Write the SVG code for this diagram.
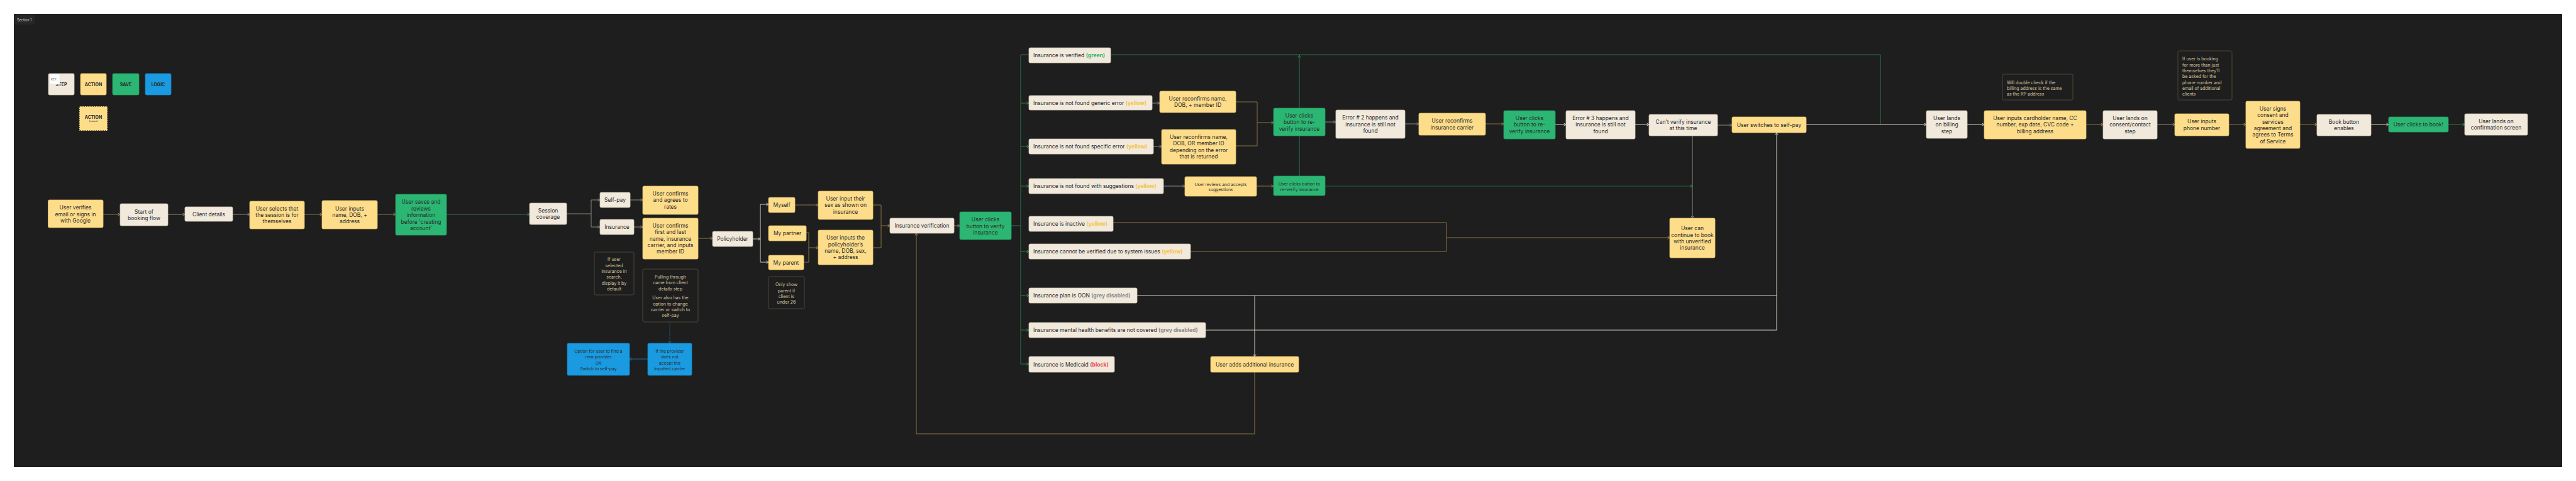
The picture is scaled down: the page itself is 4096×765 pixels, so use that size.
<svg xmlns="http://www.w3.org/2000/svg" width="4096" height="765" viewBox="0 0 4096 765">
<style>
text{font-family:Inter,"Liberation Sans",sans-serif;dominant-baseline:central}
.t{font-size:8.5px;fill:#2a2a2a;text-anchor:middle}
.l{font-size:8.5px;fill:#2a2a2a;text-anchor:start}
.s{font-size:6.8px;fill:#2a2a2a;text-anchor:middle}
.n{font-size:7px;fill:#d8c79f;text-anchor:middle}
.nl{font-size:7px;fill:#d8c79f;text-anchor:start}
.k{font-size:7px;font-weight:700;fill:#2a2a2a;text-anchor:middle}
.step{fill:#f1e9dc;stroke:#cfc4b2;stroke-width:0.8}
.act{fill:#fedd8a;stroke:#e2c06a;stroke-width:0.8}
.save{fill:#2cb673;stroke:#239a5f;stroke-width:0.8}
.logic{fill:#1a9ae0;stroke:#1583c0;stroke-width:0.8}
.note{fill:#1e1e1e;stroke:#4c4636;stroke-width:1}
.c{fill:none;stroke-width:1}
.g{stroke:#8f8a82}
.b{stroke:#8a7446}
.gr{stroke:#2b7a4e}
.lt{stroke:#d6cfc2}
.bl{stroke:#1b6fa3}
.yel{fill:#f6c343;font-weight:700}
.grn{fill:#2cb673;font-weight:700}
.gry{fill:#8c8c8c;font-weight:700}
.red{fill:#e5484d;font-weight:700}
</style>
<defs>
<marker id="ag" markerUnits="userSpaceOnUse" markerWidth="6" markerHeight="6" refX="4.2" refY="3" orient="auto"><path d="M0.6,0.8 L4.2,3 L0.6,5.2" fill="none" stroke="#8f8a82" stroke-width="0.9"/></marker>
<marker id="ab" markerUnits="userSpaceOnUse" markerWidth="6" markerHeight="6" refX="4.2" refY="3" orient="auto"><path d="M0.6,0.8 L4.2,3 L0.6,5.2" fill="none" stroke="#a88c50" stroke-width="0.9"/></marker>
<marker id="agr" markerUnits="userSpaceOnUse" markerWidth="6" markerHeight="6" refX="4.2" refY="3" orient="auto"><path d="M0.6,0.8 L4.2,3 L0.6,5.2" fill="none" stroke="#2b9a5e" stroke-width="0.9"/></marker>
<marker id="alt" markerUnits="userSpaceOnUse" markerWidth="6" markerHeight="6" refX="4.2" refY="3" orient="auto"><path d="M0.6,0.8 L4.2,3 L0.6,5.2" fill="none" stroke="#d6cfc2" stroke-width="0.9"/></marker>
<marker id="abl" markerUnits="userSpaceOnUse" markerWidth="6" markerHeight="6" refX="4.2" refY="3" orient="auto"><path d="M0.6,0.8 L4.2,3 L0.6,5.2" fill="none" stroke="#1b6fa3" stroke-width="0.9"/></marker>
</defs>
<rect x="0" y="0" width="4096" height="765" fill="#ffffff"/>
<rect x="22" y="22" width="4052" height="721" fill="#1e1e1e"/>
<g id="section-label">
<rect x="23" y="23" width="32" height="16" fill="#262626"/>
<text x="27" y="31.5" style="font-size:5.5px;fill:#cfcfcf">Section 1</text>
</g>
<g id="legend">
<rect class="step" x="77" y="117" width="41" height="34" rx="2"/>
<text class="k" x="97.5" y="134">STEP</text>
<rect x="79" y="118" width="16" height="16" fill="#ffffff" stroke="#dddddd" stroke-width="0.5"/>
<text x="81" y="126" style="font-size:4.5px;fill:#555555">KEY</text>
<rect class="act" x="128" y="117" width="41" height="34" rx="2"/>
<text class="k" x="148.5" y="134">ACTION</text>
<rect class="save" x="179" y="117" width="42" height="34" rx="2"/>
<text class="k" x="200" y="134">SAVE</text>
<rect class="logic" x="231" y="117" width="41" height="34" rx="2"/>
<text class="k" x="251.5" y="134">LOGIC</text>
<rect x="126" y="169" width="45" height="39" fill="#fedd8a" stroke="#3a3220" stroke-width="1.6" stroke-dasharray="1.8,1.8"/>
<text class="k" x="148.5" y="186">ACTION</text>
<text x="148.5" y="193" style="font-size:3.6px;fill:#2a2a2a;text-anchor:middle">(unique)</text>
</g>
<g id="connectors">
<path class="c b" d="M164,341 H191" marker-end="url(#ab)"/>
<path class="c g" d="M267,341 H294" marker-end="url(#ag)"/>
<path class="c g" d="M370,341 H397" marker-end="url(#ag)"/>
<path class="c b" d="M484,341 H512" marker-end="url(#ab)"/>
<path class="c b" d="M600,341 H629" marker-end="url(#ab)"/>
<path class="c gr" d="M710,341 H842" marker-end="url(#agr)"/>
<path class="c g" d="M901,340 H940 V318 H954" marker-end="url(#ag)"/>
<path class="c g" d="M940,340 V361 H954" marker-end="url(#ag)"/>
<path class="c g" d="M1002,318 H1022" marker-end="url(#ag)"/>
<path class="c g" d="M1008,361 H1022" marker-end="url(#ag)"/>
<path class="c b" d="M1110,379 H1133" marker-end="url(#ab)"/>
<path class="c lt" d="M1197,380 H1209" marker-end="url(#alt)"/>
<path class="c lt" d="M1209,380 V325 H1222" marker-end="url(#alt)"/>
<path class="c lt" d="M1209,380 V417 H1222" marker-end="url(#alt)"/>
<path class="c b" d="M1264,326 H1301" marker-end="url(#ab)"/>
<path class="c b" d="M1282,370 H1286 V394 H1301" marker-end="url(#ab)"/>
<path class="c b" d="M1278,417 H1286 V394"/>
<path class="c b" d="M1388,326 H1401 V359 H1415" marker-end="url(#ab)"/>
<path class="c b" d="M1388,394 H1401 V359"/>
<path class="c g" d="M1517,359 H1526" marker-end="url(#ag)"/>
<path class="c gr" d="M1608,359 H1623"/>
<path class="c gr" d="M1623,579 V87 H1636"/>
<path class="c gr" d="M1623,164 H1636" marker-end="url(#agr)"/>
<path class="c gr" d="M1623,233 H1636" marker-end="url(#agr)"/>
<path class="c gr" d="M1623,296 H1636" marker-end="url(#agr)"/>
<path class="c gr" d="M1623,400 H1636" marker-end="url(#agr)"/>
<path class="c gr" d="M1623,470 H1636" marker-end="url(#agr)"/>
<path class="c gr" d="M1623,525 H1636" marker-end="url(#agr)"/>
<path class="c gr" d="M1623,579 H1636" marker-end="url(#agr)"/>
<path class="c g" d="M1832,164 H1844" marker-end="url(#ag)"/>
<path class="c g" d="M1834,233 H1847" marker-end="url(#ag)"/>
<path class="c g" d="M1850,296 H1884" marker-end="url(#ag)"/>
<path class="c b" d="M1965,162 H1999 V195 H2025" marker-end="url(#ab)"/>
<path class="c b" d="M1965,232 H1999 V195"/>
<path class="c b" d="M1998,296 H2025" marker-end="url(#ab)"/>
<path class="c gr" d="M2066,280 V88" marker-end="url(#agr)"/>
<path class="c gr" d="M1766,87 H2990 V198"/>
<path class="c g" d="M2107,194 H2124" marker-end="url(#ag)"/>
<path class="c g" d="M2234,197 H2256" marker-end="url(#ag)"/>
<path class="c b" d="M2362,197 H2391" marker-end="url(#ab)"/>
<path class="c lt" d="M2473,198 H2490" marker-end="url(#alt)"/>
<path class="c lt" d="M2600,198 H2622" marker-end="url(#alt)"/>
<path class="c g" d="M2731,199 H2754" marker-end="url(#ag)"/>
<path class="c lt" d="M2872,198 H3063" marker-end="url(#alt)"/>
<path class="c" stroke="#24603e" d="M2107,296 H2691" marker-end="url(#agr)"/>
<path class="c g" d="M2691,216 V347" marker-end="url(#ag)"/>
<path class="c b" d="M1770,354 H2300 V378"/>
<path class="c b" d="M1893,400 H2300 V378"/>
<path class="c b" d="M2300,378 H2655" marker-end="url(#ab)"/>
<path class="c lt" d="M1808,470 H2825 V211" marker-end="url(#alt)"/>
<path class="c lt" d="M1917,525 H2825 V470"/>
<path class="c lt" d="M1995,470 V567" marker-end="url(#alt)"/>
<path class="c b" d="M1995,592 V690 H1457 V371" marker-end="url(#ab)"/>
<path class="c lt" d="M3128,198 H3155" marker-end="url(#alt)"/>
<path class="c b" d="M3317,198 H3344" marker-end="url(#ab)"/>
<path class="c g" d="M3430,198 H3458" marker-end="url(#ag)"/>
<path class="c b" d="M3544,198 H3571" marker-end="url(#ab)"/>
<path class="c b" d="M3657,198 H3684" marker-end="url(#ab)"/>
<path class="c lt" d="M3770,198 H3798" marker-end="url(#alt)"/>
<path class="c gr" d="M3893,198 H3919" marker-end="url(#agr)"/>
<path class="c bl" d="M1065,512 V546" stroke-dasharray="1.5,1.5" marker-end="url(#abl)"/>
<path class="c bl" d="M1030,571 H1001" marker-end="url(#abl)"/>
</g>
<g id="n-verify-email"><rect class="act" x="76.5" y="318" width="87.5" height="44" rx="2"/><text class="t"><tspan x="120" y="330">User verifies</tspan><tspan x="120" y="340.5">email or signs in</tspan><tspan x="120" y="351">with Google</tspan></text></g>
<g id="n-start"><rect class="step" x="191" y="324" width="76" height="35" rx="2"/><text class="t"><tspan x="229" y="336.5">Start of</tspan><tspan x="229" y="346.7">booking flow</tspan></text></g>
<g id="n-client"><rect class="step" x="294" y="329" width="76" height="23" rx="2"/><text class="t" x="332" y="340.5">Client details</text></g>
<g id="n-selects"><rect class="act" x="397" y="320" width="87" height="44" rx="2"/><text class="t"><tspan x="440.5" y="332">User selects that</tspan><tspan x="440.5" y="342">the session is for</tspan><tspan x="440.5" y="352.3">themselves</tspan></text></g>
<g id="n-inputs"><rect class="act" x="512" y="319" width="88" height="45" rx="2"/><text class="t"><tspan x="556" y="332">User inputs</tspan><tspan x="556" y="342">name, DOB, +</tspan><tspan x="556" y="352.3">address</tspan></text></g>
<g id="n-saves"><rect class="save" x="629" y="309" width="81" height="65" rx="2"/><text class="t"><tspan x="669.5" y="321">User saves and</tspan><tspan x="669.5" y="331.5">reviews</tspan><tspan x="669.5" y="342">information</tspan><tspan x="669.5" y="352.5">before 'creating</tspan><tspan x="669.5" y="363">account'</tspan></text></g>
<g id="n-session"><rect class="step" x="842" y="323" width="59" height="34" rx="2"/><text class="t"><tspan x="871.5" y="334.7">Session</tspan><tspan x="871.5" y="345">coverage</tspan></text></g>
<g id="n-selfpay"><rect class="step" x="954" y="306" width="48" height="24" rx="2"/><text class="t" x="978" y="318">Self-pay</text></g>
<g id="n-insurance"><rect class="step" x="954" y="349" width="54" height="24" rx="2"/><text class="t" x="981" y="361">Insurance</text></g>
<g id="n-rates"><rect class="act" x="1022" y="296" width="88" height="45" rx="2"/><text class="t"><tspan x="1066" y="308">User confirms</tspan><tspan x="1066" y="318.3">and agrees to</tspan><tspan x="1066" y="329">rates</tspan></text></g>
<g id="n-memberid"><rect class="act" x="1022" y="347" width="88" height="65" rx="2"/><text class="t"><tspan x="1066" y="359">User confirms</tspan><tspan x="1066" y="369.3">first and last</tspan><tspan x="1066" y="379.7">name, insurance</tspan><tspan x="1066" y="390">carrier, and inputs</tspan><tspan x="1066" y="400.3">member ID</tspan></text></g>
<g id="note-search"><rect class="note" x="945" y="401" width="63" height="68" rx="2"/><text class="n"><tspan x="976.5" y="412.3">If user</tspan><tspan x="976.5" y="421.7">selected</tspan><tspan x="976.5" y="431">insurance in</tspan><tspan x="976.5" y="440.3">search,</tspan><tspan x="976.5" y="449.7">display it by</tspan><tspan x="976.5" y="459">default</tspan></text></g>
<g id="note-pulling"><rect class="note" x="1022" y="428" width="88" height="84" rx="2"/><text class="n"><tspan x="1066" y="440">Pulling through</tspan><tspan x="1066" y="449.3">name from client</tspan><tspan x="1066" y="458.5">details step</tspan><tspan x="1066" y="473.3">User also has the</tspan><tspan x="1066" y="482.5">option to change</tspan><tspan x="1066" y="491.8">carrier or switch to</tspan><tspan x="1066" y="501">self-pay</tspan></text></g>
<g id="n-provider"><rect class="logic" x="1030" y="546" width="70" height="51" rx="2"/><text class="s"><tspan x="1065" y="558">If the provider</tspan><tspan x="1065" y="567.3">does not</tspan><tspan x="1065" y="576.7">accept the</tspan><tspan x="1065" y="586">inputted carrier</tspan></text></g>
<g id="n-option"><rect class="logic" x="902" y="546" width="99" height="51" rx="2"/><text class="s"><tspan x="951.5" y="558">Option for user to find a</tspan><tspan x="951.5" y="567.3">new provider</tspan><tspan x="951.5" y="576.7" font-style="italic">OR</tspan><tspan x="951.5" y="586">Switch to self-pay</tspan></text></g>
<g id="n-policyholder"><rect class="step" x="1133" y="368" width="64" height="24" rx="2"/><text class="t" x="1165" y="380">Policyholder</text></g>
<g id="n-myself"><rect class="act" x="1222" y="314" width="42" height="24" rx="2"/><text class="t" x="1243" y="326">Myself</text></g>
<g id="n-partner"><rect class="act" x="1222" y="359" width="60" height="24" rx="2"/><text class="t" x="1252" y="371">My partner</text></g>
<g id="n-parent"><rect class="act" x="1222" y="406" width="56" height="23" rx="2"/><text class="t" x="1250" y="417.5">My parent</text></g>
<g id="note-parent"><rect class="note" x="1222" y="440" width="57" height="51" rx="2"/><text class="n"><tspan x="1250.5" y="452.3">Only show</tspan><tspan x="1250.5" y="461.7">parent if</tspan><tspan x="1250.5" y="471">client is</tspan><tspan x="1250.5" y="480.3">under 26</tspan></text></g>
<g id="n-sex"><rect class="act" x="1301" y="304" width="87" height="45" rx="2"/><text class="t"><tspan x="1344.5" y="316">User input their</tspan><tspan x="1344.5" y="326.3">sex as shown on</tspan><tspan x="1344.5" y="336.7">insurance</tspan></text></g>
<g id="n-phinfo"><rect class="act" x="1301" y="366" width="87" height="55" rx="2"/><text class="t"><tspan x="1344.5" y="378.3">User inputs the</tspan><tspan x="1344.5" y="388.7">policyholder’s</tspan><tspan x="1344.5" y="399">name, DOB, sex,</tspan><tspan x="1344.5" y="409.3">+ address</tspan></text></g>
<g id="n-insverif"><rect class="step" x="1415" y="347" width="102" height="24" rx="2"/><text class="t" x="1466" y="359">Insurance verification</text></g>
<g id="n-verifybtn"><rect class="save" x="1526" y="337" width="82" height="44" rx="2"/><text class="t"><tspan x="1567" y="349">User clicks</tspan><tspan x="1567" y="359.5">button to verify</tspan><tspan x="1567" y="369.8">insurance</tspan></text></g>
<g id="n-verified"><rect class="step" x="1636" y="76" width="130" height="24" rx="2"/><text class="l" x="1643" y="88">Insurance is verified <tspan class="grn">(green)</tspan></text></g>
<g id="n-generic"><rect class="step" x="1636" y="152" width="196" height="23" rx="2"/><text class="l" x="1643" y="163.5">Insurance is not found generic error <tspan class="yel">(yellow)</tspan></text></g>
<g id="n-specific"><rect class="step" x="1636" y="221" width="198" height="24" rx="2"/><text class="l" x="1643" y="233">Insurance is not found specific error <tspan class="yel">(yellow)</tspan></text></g>
<g id="n-suggest"><rect class="step" x="1636" y="284" width="214" height="24" rx="2"/><text class="l" x="1643" y="296">Insurance is not found with suggestions <tspan class="yel">(yellow)</tspan></text></g>
<g id="n-inactive"><rect class="step" x="1636" y="344" width="134" height="24" rx="2"/><text class="l" x="1643" y="356">Insurance is inactive <tspan class="yel">(yellow)</tspan></text></g>
<g id="n-system"><rect class="step" x="1636" y="388" width="257" height="24" rx="2"/><text class="l" x="1643" y="400">Insurance cannot be verified due to system issues <tspan class="yel">(yellow)</tspan></text></g>
<g id="n-oon"><rect class="step" x="1636" y="458" width="172" height="24" rx="2"/><text class="l" x="1643" y="470">Insurance plan is OON <tspan class="gry">(grey disabled)</tspan></text></g>
<g id="n-mental"><rect class="step" x="1636" y="513" width="281" height="24" rx="2"/><text class="l" x="1643" y="525">Insurance mental health benefits are not covered <tspan class="gry">(grey disabled)</tspan></text></g>
<g id="n-medicaid"><rect class="step" x="1636" y="567" width="136" height="25" rx="2"/><text class="l" x="1643" y="579.5">Insurance is Medicaid <tspan class="red">(block)</tspan></text></g>
<g id="n-addins"><rect class="act" x="1925" y="567" width="140" height="25" rx="2"/><text class="t" x="1995" y="579.5">User adds additional insurance</text></g>
<g id="n-reconf1"><rect class="act" x="1844" y="145" width="121" height="34" rx="2"/><text class="t"><tspan x="1904.5" y="157">User reconfirms name,</tspan><tspan x="1904.5" y="167">DOB, + member ID</tspan></text></g>
<g id="n-reconf2"><rect class="act" x="1847" y="206" width="118" height="55" rx="2"/><text class="t"><tspan x="1906" y="218">User reconfirms name,</tspan><tspan x="1906" y="228.3">DOB, OR member ID</tspan><tspan x="1906" y="238.7">depending on the error</tspan><tspan x="1906" y="249">that is returned</tspan></text></g>
<g id="n-accept"><rect class="act" x="1884" y="281" width="114" height="31" rx="2"/><text class="s"><tspan x="1941" y="292.5">User reviews and accepts</tspan><tspan x="1941" y="301.3">suggestions</tspan></text></g>
<g id="n-reverify1"><rect class="save" x="2025" y="172" width="82" height="44" rx="2"/><text class="t"><tspan x="2066" y="184">User clicks</tspan><tspan x="2066" y="194.3">button to re-</tspan><tspan x="2066" y="204.5">verify insurance</tspan></text></g>
<g id="n-reverify2"><rect class="save" x="2025" y="280" width="82" height="31" rx="2"/><text class="s"><tspan x="2066" y="292">User clicks button to</tspan><tspan x="2066" y="301">re-verify insurance</tspan></text></g>
<g id="n-error2"><rect class="step" x="2124" y="175" width="110" height="45" rx="2"/><text class="t"><tspan x="2179" y="187.3">Error # 2 happens and</tspan><tspan x="2179" y="197.7">insurance is still not</tspan><tspan x="2179" y="208">found</tspan></text></g>
<g id="n-carrier"><rect class="act" x="2256" y="180" width="106" height="35" rx="2"/><text class="t"><tspan x="2309" y="192.3">User reconfirms</tspan><tspan x="2309" y="202.7">insurance carrier</tspan></text></g>
<g id="n-reverify3"><rect class="save" x="2391" y="176" width="82" height="45" rx="2"/><text class="t"><tspan x="2432" y="188">User clicks</tspan><tspan x="2432" y="198.3">button to re-</tspan><tspan x="2432" y="208.7">verify insurance</tspan></text></g>
<g id="n-error3"><rect class="step" x="2490" y="176" width="110" height="45" rx="2"/><text class="t"><tspan x="2545" y="188">Error # 3 happens and</tspan><tspan x="2545" y="198.3">insurance is still not</tspan><tspan x="2545" y="208.7">found</tspan></text></g>
<g id="n-cantverify"><rect class="step" x="2622" y="182" width="109" height="34" rx="2"/><text class="t"><tspan x="2676.5" y="194">Can’t verify insurance</tspan><tspan x="2676.5" y="204.3">at this time</tspan></text></g>
<g id="n-switch"><rect class="act" x="2754" y="186" width="118" height="25" rx="2"/><text class="t" x="2813" y="198.5">User switches to self-pay</text></g>
<g id="n-unverified"><rect class="act" x="2655" y="347" width="72" height="63" rx="2"/><text class="t"><tspan x="2691" y="363.3">User can</tspan><tspan x="2691" y="373.5">continue to book</tspan><tspan x="2691" y="383.7">with unverified</tspan><tspan x="2691" y="394">insurance</tspan></text></g>
<g id="note-billing"><rect class="note" x="3184" y="118" width="112" height="41" rx="2"/><text class="nl"><tspan x="3191" y="130.7">Will double check if the</tspan><tspan x="3191" y="140">billing address is the same</tspan><tspan x="3191" y="149.3">as the RP address</tspan></text></g>
<g id="n-billing"><rect class="step" x="3063" y="176" width="65" height="44" rx="2"/><text class="t"><tspan x="3095.5" y="188">User lands</tspan><tspan x="3095.5" y="198.3">on billing</tspan><tspan x="3095.5" y="208.7">step</tspan></text></g>
<g id="n-card"><rect class="act" x="3155" y="176" width="162" height="45" rx="2"/><text class="t"><tspan x="3236" y="188">User inputs cardholder name, CC</tspan><tspan x="3236" y="198.3">number, exp date, CVC code +</tspan><tspan x="3236" y="208.7">billing address</tspan></text></g>
<g id="n-consent"><rect class="step" x="3344" y="176" width="86" height="45" rx="2"/><text class="t"><tspan x="3387" y="188">User lands on</tspan><tspan x="3387" y="198.3">consent/contact</tspan><tspan x="3387" y="208.7">step</tspan></text></g>
<g id="note-phone"><rect class="note" x="3463" y="81" width="86" height="78" rx="2"/><text class="nl"><tspan x="3470" y="93.3">If user is booking</tspan><tspan x="3470" y="102.7">for more than just</tspan><tspan x="3470" y="112">themselves they’ll</tspan><tspan x="3470" y="121.3">be asked for the</tspan><tspan x="3470" y="130.5">phone number and</tspan><tspan x="3470" y="139.7">email of additional</tspan><tspan x="3470" y="149">clients</tspan></text></g>
<g id="n-phone"><rect class="act" x="3458" y="181" width="86" height="35" rx="2"/><text class="t"><tspan x="3501" y="193.3">User inputs</tspan><tspan x="3501" y="203.7">phone number</tspan></text></g>
<g id="n-signs"><rect class="act" x="3571" y="161" width="86" height="75" rx="2"/><text class="t"><tspan x="3614" y="173">User signs</tspan><tspan x="3614" y="183.3">consent and</tspan><tspan x="3614" y="193.7">services</tspan><tspan x="3614" y="204">agreement and</tspan><tspan x="3614" y="214.3">agrees to Terms</tspan><tspan x="3614" y="224.7">of Service</tspan></text></g>
<g id="n-bookbtn"><rect class="step" x="3684" y="182" width="86" height="34" rx="2"/><text class="t"><tspan x="3727" y="193.5">Book button</tspan><tspan x="3727" y="203.7">enables</tspan></text></g>
<g id="n-clickbook"><rect class="save" x="3798" y="186" width="95" height="24" rx="2"/><text class="t" x="3845.5" y="198">User clicks to book!</text></g>
<g id="n-confirm"><rect class="step" x="3919" y="181" width="100" height="34" rx="2"/><text class="t"><tspan x="3969" y="193">User lands on</tspan><tspan x="3969" y="203.3">confirmation screen</tspan></text></g>
</svg>
